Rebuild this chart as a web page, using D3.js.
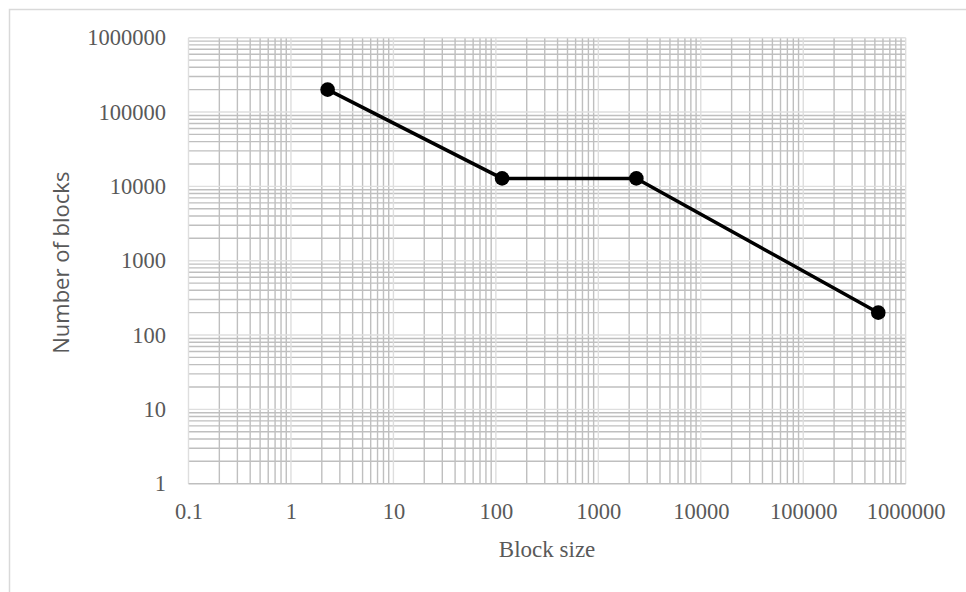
<!DOCTYPE html>
<html>
<head>
<meta charset="utf-8">
<script src="https://cdn.jsdelivr.net/npm/d3@7"></script>
<style>
  body { margin: 0; background: #fff; }
  svg { display: block; }
</style>
</head>
<body>
<svg id="chart"></svg>
<script>
// board size
var svg_w = 966, svg_h = 592;
var plot_left = 188.5, plot_right = 905.7, plot_top = 37.7, plot_bottom = 483.7;

// data
var block_size = [2.28, 115, 2350, 540000];
var block_count = [200000, 12800, 12800, 200];

// axis ticks
var x_ticks = [0.1, 1, 10, 100, 1000, 10000, 100000, 1000000];
var y_ticks = [1, 10, 100, 1000, 10000, 100000, 1000000];
var x_title = "Block size";
var y_title = "Number of blocks";

var svg = d3.select("#chart").attr("width", svg_w).attr("height", svg_h);

// chart frame
svg.append("rect").attr("x", 9.5).attr("y", 9.5)
  .attr("width", svg_w + 20).attr("height", svg_h + 20)
  .attr("fill", "none").attr("stroke", "#d9d9d9").attr("stroke-width", 1.5);

var x_scale = d3.scaleLog().domain([0.1, 1000000]).range([plot_left, plot_right]);
var y_scale = d3.scaleLog().domain([1, 1000000]).range([plot_bottom, plot_top]);

// minor values: 2..9 inside each decade
function minors(lo, hi){
  var out = [];
  for (var d = lo; d < hi; d *= 10)
    for (var k = 2; k <= 9; k++) out.push(d * k);
  return out;
}

var grid = svg.append("g").attr("class", "grid");
// minor gridlines (darker)
grid.selectAll(".xminor").data(minors(0.1, 1000000)).enter().append("line")
  .attr("x1", function(d){ return x_scale(d); }).attr("x2", function(d){ return x_scale(d); })
  .attr("y1", plot_top).attr("y2", plot_bottom)
  .attr("stroke", "#bfbfbf").attr("stroke-width", 1.4);
grid.selectAll(".yminor").data(minors(1, 1000000)).enter().append("line")
  .attr("y1", function(d){ return y_scale(d); }).attr("y2", function(d){ return y_scale(d); })
  .attr("x1", plot_left).attr("x2", plot_right)
  .attr("stroke", "#bfbfbf").attr("stroke-width", 1.4);
// major gridlines (lighter)
grid.selectAll(".xmajor").data(x_ticks).enter().append("line")
  .attr("x1", function(d){ return x_scale(d); }).attr("x2", function(d){ return x_scale(d); })
  .attr("y1", plot_top).attr("y2", plot_bottom)
  .attr("stroke", "#dedede").attr("stroke-width", 1.4);
grid.selectAll(".ymajor").data(y_ticks.slice(1)).enter().append("line")
  .attr("y1", function(d){ return y_scale(d); }).attr("y2", function(d){ return y_scale(d); })
  .attr("x1", plot_left).attr("x2", plot_right)
  .attr("stroke", "#dedede").attr("stroke-width", 1.4);
// bottom axis line
grid.append("line").attr("x1", plot_left).attr("x2", plot_right)
  .attr("y1", plot_bottom).attr("y2", plot_bottom)
  .attr("stroke", "#bfbfbf").attr("stroke-width", 1.6);

// x axis labels
var x_axis = d3.axisBottom(x_scale).tickValues(x_ticks)
  .tickFormat(function(d){ return String(d); }).tickSize(0).tickPadding(19);
svg.append("g").attr("transform", "translate(0," + plot_bottom + ")").call(x_axis)
  .call(function(g){ g.select(".domain").remove(); })
  .selectAll("text").attr("font-family", "'Liberation Serif', 'Times New Roman', serif")
  .attr("font-size", 22.5).attr("fill", "#595959");

// y axis labels
var y_axis = d3.axisLeft(y_scale).tickValues(y_ticks)
  .tickFormat(function(d){ return String(d); }).tickSize(0).tickPadding(22.5);
svg.append("g").attr("transform", "translate(" + plot_left + ",0)").call(y_axis)
  .call(function(g){ g.select(".domain").remove(); })
  .selectAll("text").attr("font-family", "'Liberation Serif', 'Times New Roman', serif")
  .attr("font-size", 22.5).attr("fill", "#595959");

// axis titles
svg.append("text").attr("x", (plot_left + plot_right) / 2).attr("y", 557)
  .attr("text-anchor", "middle")
  .attr("font-family", "'Liberation Serif', 'Times New Roman', serif")
  .attr("font-size", 23).attr("fill", "#595959").text(x_title);
svg.append("text")
  .attr("transform", "translate(69," + ((plot_top + plot_bottom) / 2 + 2) + ") rotate(-90)")
  .attr("text-anchor", "middle")
  .attr("font-family", "'Open Sans', sans-serif")
  .attr("font-size", 22).attr("fill", "#595959").text(y_title);

// series
var pts = block_size.map(function(d, i){ return [d, block_count[i]]; });
var line = d3.line().x(function(d){ return x_scale(d[0]); }).y(function(d){ return y_scale(d[1]); });
svg.append("path").datum(pts).attr("d", line)
  .attr("fill", "none").attr("stroke", "#000").attr("stroke-width", 3.5);
svg.append("g").selectAll("circle").data(pts).enter().append("circle")
  .attr("cx", function(d){ return x_scale(d[0]); })
  .attr("cy", function(d){ return y_scale(d[1]); })
  .attr("r", 7.3).attr("fill", "#000");
</script>
</body>
</html>
